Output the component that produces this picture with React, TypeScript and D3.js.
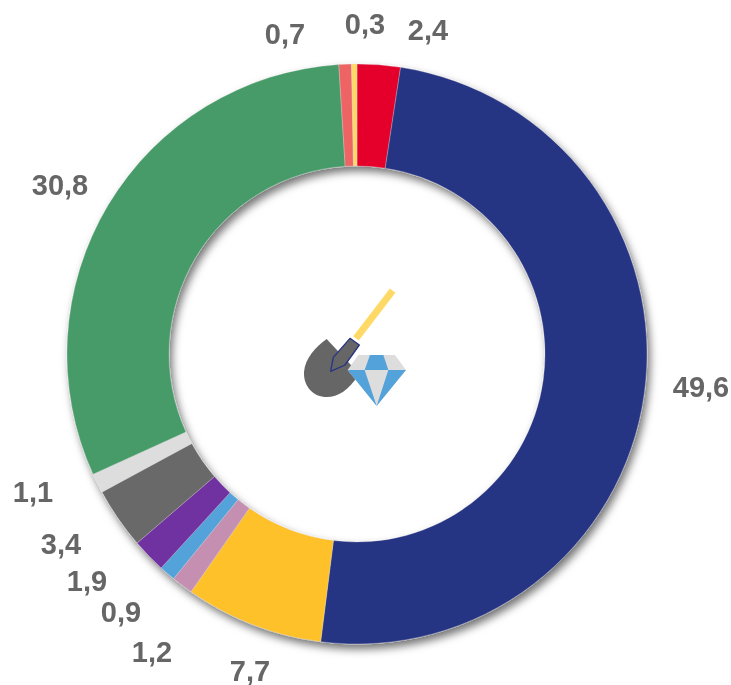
import React from "react";
import * as d3 from "d3";

const labels = ["2,4", "49,6", "7,7", "1,2", "0,9", "1,9", "3,4", "1,1", "30,8", "0,7", "0,3"];
const values = [2.4, 49.6, 7.7, 1.2, 0.9, 1.9, 3.4, 1.1, 30.8, 0.7, 0.3];
const colors = ["#E4002B", "#283583", "#FFC12C", "#C48FB0", "#52A2DA", "#7030A0", "#696969", "#DDDDDD", "#469B68", "#EE6464", "#FFD966"];
const labelX = [428, 701, 250, 152, 121, 87, 61, 33, 60, 285, 365];
const labelY = [30, 387, 671, 652, 612, 581, 544, 492, 185, 34, 24];

const W = 731;
const H = 685;
const CX = 357;
const CY = 354;
const R = 290;
const r = 188;

export default function App() {
  const pie = d3.pie<number>().sort(null).value((d) => d);
  const arc = d3.arc<d3.PieArcDatum<number>>().innerRadius(r).outerRadius(R);
  const slices = pie(values);
  return (
    <svg width={W} height={H} viewBox={`0 0 ${W} ${H}`} style={{ position: "absolute", left: 0, top: 0, background: "#fff" }}>
      <defs>
        <filter id="shadow" x="-10%" y="-10%" width="120%" height="120%">
          <feDropShadow dx="3" dy="5" stdDeviation="4.5" floodColor="#000" floodOpacity="0.55" />
        </filter>
        <filter id="soft" x="-5%" y="-5%" width="110%" height="110%">
          <feGaussianBlur stdDeviation="0.5" />
        </filter>
      </defs>
      <g transform={`translate(${CX},${CY})`} filter="url(#shadow)">
        {slices.map((s, i) => (
          <path key={i} d={arc(s) ?? ""} fill={colors[i]} stroke="#e6e6e6" strokeWidth={0.3} />
        ))}
      </g>
      <g fontFamily="'Liberation Sans', Arial, sans-serif" fontWeight="700" fontSize={29} fill="#666666" textAnchor="middle" dominantBaseline="central" filter="url(#soft)">
        {labels.map((t, i) => (
          <text key={i} x={labelX[i]} y={labelY[i]}>{t}</text>
        ))}
      </g>
      <g transform="translate(280,270) scale(0.3333)" filter="url(#soft)">
        <path d="M338,62 L228,205" stroke="#FFD966" strokeWidth={21} fill="none" />
        <path d="M140,207 L238,312 C205,362 175,381 140,381 C100,381 70,350 72,305 C76,265 105,232 140,207 Z" fill="#666666" />
        <path d="M210,205 L238,225 L195,285 L152,304 L160,262 Z" fill="#666666" stroke="#283583" strokeWidth={4} strokeLinejoin="round" />
        <path d="M235,255 L345,255 L378,300 L290,408 L203,300 Z" fill="#DDDDDD" />
        <path d="M203,300 L254,300 L290,408 Z M378,300 L325,300 L290,408 Z M254,300 L270,255 L310,255 L325,300 Z" fill="#52A2DA" />
      </g>
    </svg>
  );
}
